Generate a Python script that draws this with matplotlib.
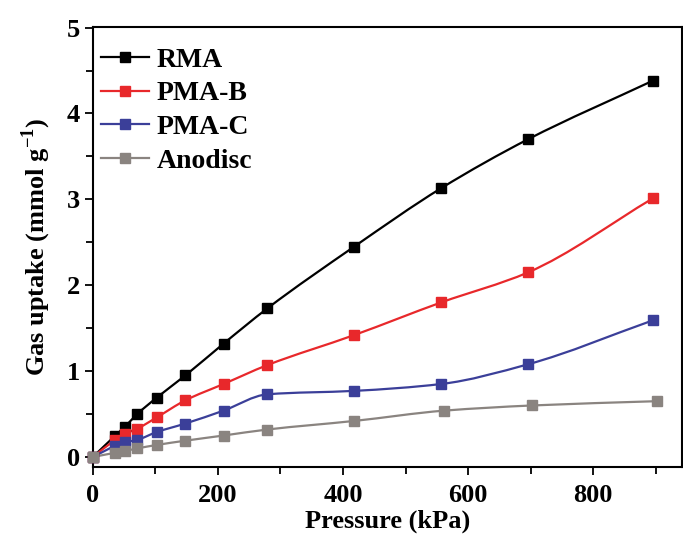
import numpy as np
import matplotlib
matplotlib.use("Agg")
import matplotlib.pyplot as plt
from matplotlib.path import Path
from matplotlib.patches import PathPatch
from matplotlib.lines import Line2D

plt.rcParams['font.family'] = ['Liberation Serif', 'DejaVu Serif']
plt.rcParams['font.weight'] = 'bold'
plt.rcParams['mathtext.fontset'] = 'custom'
plt.rcParams['mathtext.rm'] = 'Liberation Serif:bold'
plt.rcParams['mathtext.bf'] = 'Liberation Serif:bold'

# pressure points (kPa)
pressure = [0, 36, 51, 71, 102, 148, 209, 279, 418, 557, 696, 895]
pressure_anodisc = [0, 36, 51, 71, 102, 148, 209, 279, 418, 562, 702, 902]

# uptake (mmol/g)
rma = [0, 0.25, 0.35, 0.50, 0.69, 0.95, 1.32, 1.73, 2.45, 3.13, 3.70, 4.38]
pma_b = [0, 0.20, 0.27, 0.33, 0.46, 0.66, 0.85, 1.07, 1.42, 1.80, 2.15, 3.01]
pma_c = [0, 0.13, 0.17, 0.20, 0.29, 0.39, 0.54, 0.73, 0.77, 0.85, 1.08, 1.59]
anodisc = [0, 0.05, 0.07, 0.10, 0.14, 0.19, 0.25, 0.32, 0.42, 0.54, 0.60, 0.65]

names = ['RMA', 'PMA-B', 'PMA-C', 'Anodisc']
colors = ['#000000', '#e8282b', '#3b3f99', '#8a8480']


def smooth_path(x, y):
    # monotone cubic (pchip style) joined as bezier segments
    x = np.asarray(x, float)
    y = np.asarray(y, float)
    h = np.diff(x)
    d = np.diff(y) / h
    m = np.zeros_like(y)
    m[0] = d[0]
    m[-1] = d[-1]
    for k in range(1, len(x) - 1):
        if d[k - 1] * d[k] > 0:
            w1 = 2 * h[k] + h[k - 1]
            w2 = h[k] + 2 * h[k - 1]
            m[k] = (w1 + w2) / (w1 / d[k - 1] + w2 / d[k])
    verts = [(x[0], y[0])]
    codes = [Path.MOVETO]
    for i in range(len(h)):
        verts += [(x[i] + h[i] / 3, y[i] + m[i] * h[i] / 3),
                  (x[i + 1] - h[i] / 3, y[i + 1] - m[i + 1] * h[i] / 3),
                  (x[i + 1], y[i + 1])]
        codes += [Path.CURVE4] * 3
    return Path(verts, codes)


fig = plt.figure(figsize=(6.83, 5.42), dpi=100)
ax = fig.add_axes([0.1359, 0.1378, 0.8626, 0.8129])

series = [(pressure, rma), (pressure, pma_b), (pressure, pma_c), (pressure_anodisc, anodisc)]
handles = []
for (px, py), name, c in zip(series, names, colors):
    ax.add_patch(PathPatch(smooth_path(px, py), fill=False, ec=c, lw=1.6))
    ax.plot(px, py, ls='none', marker='s', ms=7, color=c, clip_on=False, zorder=3)
    handles.append(Line2D([], [], color=c, lw=1.6, marker='s', ms=7))

ax.set_xlim(0, 942)
ax.set_ylim(-0.12, 5.01)
ax.set_xticks([0, 200, 400, 600, 800])
ax.set_xticks(np.arange(100, 1000, 200), minor=True)
ax.set_yticks([0, 1, 2, 3, 4, 5])
ax.set_yticks(np.arange(0.5, 5, 1), minor=True)
ax.tick_params(which='both', direction='out', width=1.3, labelsize=19)
ax.tick_params(which='major', length=6)
ax.tick_params(which='minor', length=5)
ax.tick_params(axis='x', pad=6)
ax.tick_params(axis='y', pad=3)
for s in ax.spines.values():
    s.set_linewidth(1.5)

ax.set_xlabel('Pressure (kPa)', fontsize=19, fontweight='bold', labelpad=2)
ax.set_ylabel('Gas uptake (mmol g$^{-1}$)', fontsize=19, fontweight='bold', labelpad=10)

ax.legend(handles, names, loc='upper left', bbox_to_anchor=(-0.01, 0.985),
          frameon=False, fontsize=20, handlelength=1.75, handletextpad=0.25,
          labelspacing=0.3, borderaxespad=0.2, borderpad=0.3)

fig.savefig('out.png', dpi=100)
